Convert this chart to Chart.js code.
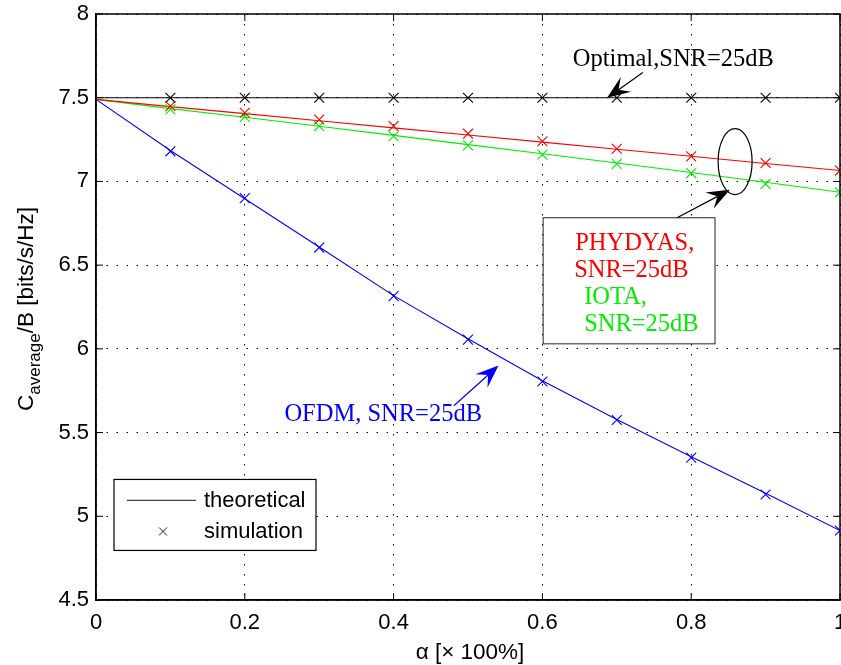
<!DOCTYPE html>
<html>
<head>
<meta charset="utf-8">
<script src="https://cdn.jsdelivr.net/npm/chart.js@4.4.1/dist/chart.umd.min.js"></script>
<style>
  html, body { margin: 0; padding: 0; background: #fff; }
  #wrap { width: 841px; height: 665px; }
</style>
</head>
<body>
<div id="wrap"><canvas id="c" width="841" height="665"></canvas></div>
<script>
// --- dati ---
const alpha = [0, 0.1, 0.2, 0.3, 0.4, 0.5, 0.6, 0.7, 0.8, 0.9, 1.0];
const alphaSim = [0.1, 0.2, 0.3, 0.4, 0.5, 0.6, 0.7, 0.8, 0.9, 1.0];

const optimalTheory = [7.5, 7.5, 7.5, 7.5, 7.5, 7.5, 7.5, 7.5, 7.5, 7.5, 7.5];
const phydyasTheory = [7.49, 7.447, 7.405, 7.362, 7.32, 7.277, 7.235, 7.192, 7.15, 7.107, 7.065];
const iotaTheory    = [7.49, 7.435, 7.383, 7.33, 7.275, 7.22, 7.165, 7.11, 7.053, 6.995, 6.935];
const ofdmTheory    = [7.49, 7.185, 6.897, 6.608, 6.318, 6.06, 5.81, 5.578, 5.355, 5.138, 4.915];

const optimalSim = [7.5, 7.5, 7.5, 7.5, 7.5, 7.5, 7.5, 7.5, 7.5, 7.5];
const phydyasSim = [7.45, 7.41, 7.37, 7.33, 7.285, 7.24, 7.195, 7.15, 7.11, 7.065];
const iotaSim    = [7.43, 7.385, 7.33, 7.27, 7.215, 7.16, 7.105, 7.05, 6.985, 6.935];
const ofdmSim    = [7.18, 6.9, 6.605, 6.315, 6.055, 5.805, 5.575, 5.35, 5.13, 4.915];

const xTicks = [0, 0.2, 0.4, 0.6, 0.8, 1];
const yTicks = [4.5, 5, 5.5, 6, 6.5, 7, 7.5, 8];

const SANS = '"Liberation Sans", Arial, Helvetica, sans-serif';
const SERIF = '"Liberation Serif", "Times New Roman", serif';

function pts(xs, ys) { return xs.map((x, i) => ({ x: x, y: ys[i] })); }

function theory(ys, color) {
    return {
        data: pts(alpha, ys), borderColor: color, borderWidth: 1.1,
        showLine: true, pointRadius: 0, clip: 0, order: 2
    };
}
function sim(ys, color) {
    return {
        data: pts(alphaSim, ys), borderColor: color, backgroundColor: color,
        showLine: false, pointStyle: 'crossRot', pointRadius: 7,
        pointBorderWidth: 1.1, clip: 0, order: 1
    };
}

// --- freccia stile Matlab ---
function arrow(ctx, x1, y1, x2, y2, color) {
    const ang = Math.atan2(y2 - y1, x2 - x1);
    const L = 23, W = 9, notch = 14;
    ctx.save();
    ctx.strokeStyle = color; ctx.fillStyle = color; ctx.lineWidth = 1.2;
    ctx.beginPath(); ctx.moveTo(x1, y1);
    ctx.lineTo(x2 - Math.cos(ang) * notch, y2 - Math.sin(ang) * notch);
    ctx.stroke();
    ctx.translate(x2, y2); ctx.rotate(ang);
    ctx.beginPath();
    ctx.moveTo(0, 0); ctx.lineTo(-L, -W); ctx.lineTo(-notch, 0); ctx.lineTo(-L, W);
    ctx.closePath(); ctx.fill();
    ctx.restore();
}

const decorPlugin = {
    id: 'decor',
    afterDraw(chart) {
        const ctx = chart.ctx;
        const a = chart.chartArea;
        const xs = chart.scales.x, ys = chart.scales.y;
        const px = v => xs.getPixelForValue(v);
        const py = v => ys.getPixelForValue(v);

        ctx.save();
        // bordo superiore e destro
        ctx.strokeStyle = '#000'; ctx.lineWidth = 1.5;
        ctx.strokeRect(a.left, a.top, a.right - a.left, a.bottom - a.top);

        // tacche interne
        ctx.lineWidth = 1;
        xTicks.forEach(v => {
            const x = px(v);
            ctx.beginPath();
            ctx.moveTo(x, a.bottom); ctx.lineTo(x, a.bottom - 7);
            ctx.moveTo(x, a.top); ctx.lineTo(x, a.top + 7);
            ctx.stroke();
        });
        yTicks.forEach(v => {
            const y = py(v);
            ctx.beginPath();
            ctx.moveTo(a.left, y); ctx.lineTo(a.left + 7, y);
            ctx.moveTo(a.right, y); ctx.lineTo(a.right - 7, y);
            ctx.stroke();
        });

        // annotazione Optimal
        ctx.font = '24.5px ' + SERIF;
        ctx.textAlign = 'center'; ctx.textBaseline = 'alphabetic';
        ctx.fillStyle = '#000';
        ctx.fillText('Optimal,SNR=25dB', px(0.776), py(7.69));
        arrow(ctx, px(0.735), py(7.65), px(0.687), py(7.5), '#000');

        // ellisse PHYDYAS / IOTA
        ctx.beginPath();
        ctx.ellipse(px(0.859), py(7.118), 17, 33, 0, 0, Math.PI * 2);
        ctx.strokeStyle = '#000'; ctx.lineWidth = 1.2; ctx.stroke();

        // riquadro testo
        const bx1 = px(0.601), bx2 = px(0.832), by1 = py(6.783), by2 = py(6.03);
        ctx.fillStyle = '#fff';
        ctx.fillRect(bx1, by1, bx2 - bx1, by2 - by1);
        ctx.lineWidth = 1; ctx.strokeStyle = '#222';
        ctx.strokeRect(bx1, by1, bx2 - bx1, by2 - by1);
        arrow(ctx, px(0.781), by1, px(0.852), py(6.95), '#000');

        ctx.textAlign = 'left';
        ctx.fillStyle = '#ff0000';
        ctx.fillText('PHYDYAS,', bx1 + 32, by1 + 32);
        ctx.fillText('SNR=25dB', bx1 + 31, by1 + 59);
        ctx.fillStyle = '#00ee00';
        ctx.fillText('IOTA,', bx1 + 41, by1 + 86);
        ctx.fillText('SNR=25dB', bx1 + 41, by1 + 113);

        // annotazione OFDM
        ctx.textAlign = 'center';
        ctx.fillStyle = '#0000ff';
        ctx.fillText('OFDM, SNR=25dB', px(0.386), py(5.57));
        arrow(ctx, px(0.481), py(5.66), px(0.541), py(5.9), '#0000ff');

        // legenda
        const lx = a.left + 18, ly = py(5.22);
        ctx.fillStyle = '#fff';
        ctx.fillRect(lx, ly, 202, 71);
        ctx.strokeStyle = '#000'; ctx.lineWidth = 1.2;
        ctx.strokeRect(lx, ly, 202, 71);
        ctx.strokeStyle = '#444'; ctx.lineWidth = 1.2;
        ctx.beginPath(); ctx.moveTo(lx + 13, ly + 21); ctx.lineTo(lx + 82, ly + 21); ctx.stroke();
        ctx.strokeStyle = '#222'; ctx.lineWidth = 1;
        const cx = lx + 49, cy = ly + 52;
        ctx.beginPath();
        ctx.moveTo(cx - 4, cy - 4); ctx.lineTo(cx + 4, cy + 4);
        ctx.moveTo(cx + 4, cy - 4); ctx.lineTo(cx - 4, cy + 4);
        ctx.stroke();
        ctx.fillStyle = '#000'; ctx.textAlign = 'left'; ctx.textBaseline = 'middle';
        ctx.font = '22px ' + SANS;
        ctx.fillText('theoretical', lx + 90, ly + 21);
        ctx.fillText('simulation', lx + 90, ly + 52);

        // titolo asse x
        ctx.textAlign = 'center'; ctx.textBaseline = 'alphabetic';
        ctx.font = '22.5px ' + SANS;
        ctx.fillText('\u03B1 [\u00D7 100%]', (a.left + a.right) / 2 + 2, 659);

        // titolo asse y con pedice
        ctx.translate(33, (a.top + a.bottom) / 2 + 2);
        ctx.rotate(-Math.PI / 2);
        const fMain = '22.5px ' + SANS, fSub = '17px ' + SANS;
        ctx.font = fMain; const w1 = ctx.measureText('C').width;
        const w3 = ctx.measureText('/B [bits/s/Hz]').width;
        ctx.font = fSub; const w2 = ctx.measureText('average').width;
        let x0 = -(w1 + w2 + w3) / 2;
        ctx.textAlign = 'left';
        ctx.font = fMain; ctx.fillText('C', x0, 0); x0 += w1;
        ctx.font = fSub; ctx.fillText('average', x0, 7); x0 += w2;
        ctx.font = fMain; ctx.fillText('/B [bits/s/Hz]', x0, 0);
        ctx.restore();
    }
};

function noPad(s) { s.paddingLeft = 0; s.paddingRight = 0; s.paddingTop = 0; s.paddingBottom = 0; }

new Chart(document.getElementById('c'), {
    type: 'scatter',
    data: {
        datasets: [
            theory(optimalTheory, '#000000'),
            theory(phydyasTheory, '#ff0000'),
            theory(iotaTheory, '#00ee00'),
            theory(ofdmTheory, '#0000ff'),
            sim(optimalSim, '#000000'),
            sim(phydyasSim, '#ff0000'),
            sim(iotaSim, '#00ee00'),
            sim(ofdmSim, '#0000ff')
        ]
    },
    options: {
        responsive: false,
        animation: false,
        layout: { autoPadding: false, padding: { top: 14, right: 1, left: 0, bottom: 0 } },
        plugins: { legend: { display: false }, tooltip: { enabled: false } },
        scales: {
            x: {
                type: 'linear', min: 0, max: 1,
                afterFit: s => { s.height = 65; noPad(s); },
                afterBuildTicks: s => { s.ticks = xTicks.map(v => ({ value: v })); },
                ticks: {
                    color: '#000', padding: 10, maxRotation: 0,
                    font: { family: SANS, size: 22 },
                    callback: v => String(+v.toFixed(2))
                },
                grid: { color: '#000', lineWidth: 1, drawTicks: false },
                border: { color: '#000', width: 1.5, dash: [1.5, 8.5] }
            },
            y: {
                type: 'linear', min: 4.5, max: 8,
                afterFit: s => { s.width = 96; noPad(s); },
                afterBuildTicks: s => { s.ticks = yTicks.map(v => ({ value: v })); },
                ticks: {
                    color: '#000', padding: 7,
                    font: { family: SANS, size: 22 },
                    callback: v => String(+v.toFixed(2))
                },
                grid: { color: '#000', lineWidth: 1, drawTicks: false },
                border: { color: '#000', width: 1.5, dash: [1.5, 8.5] }
            }
        }
    },
    plugins: [decorPlugin]
});
</script>
</body>
</html>
